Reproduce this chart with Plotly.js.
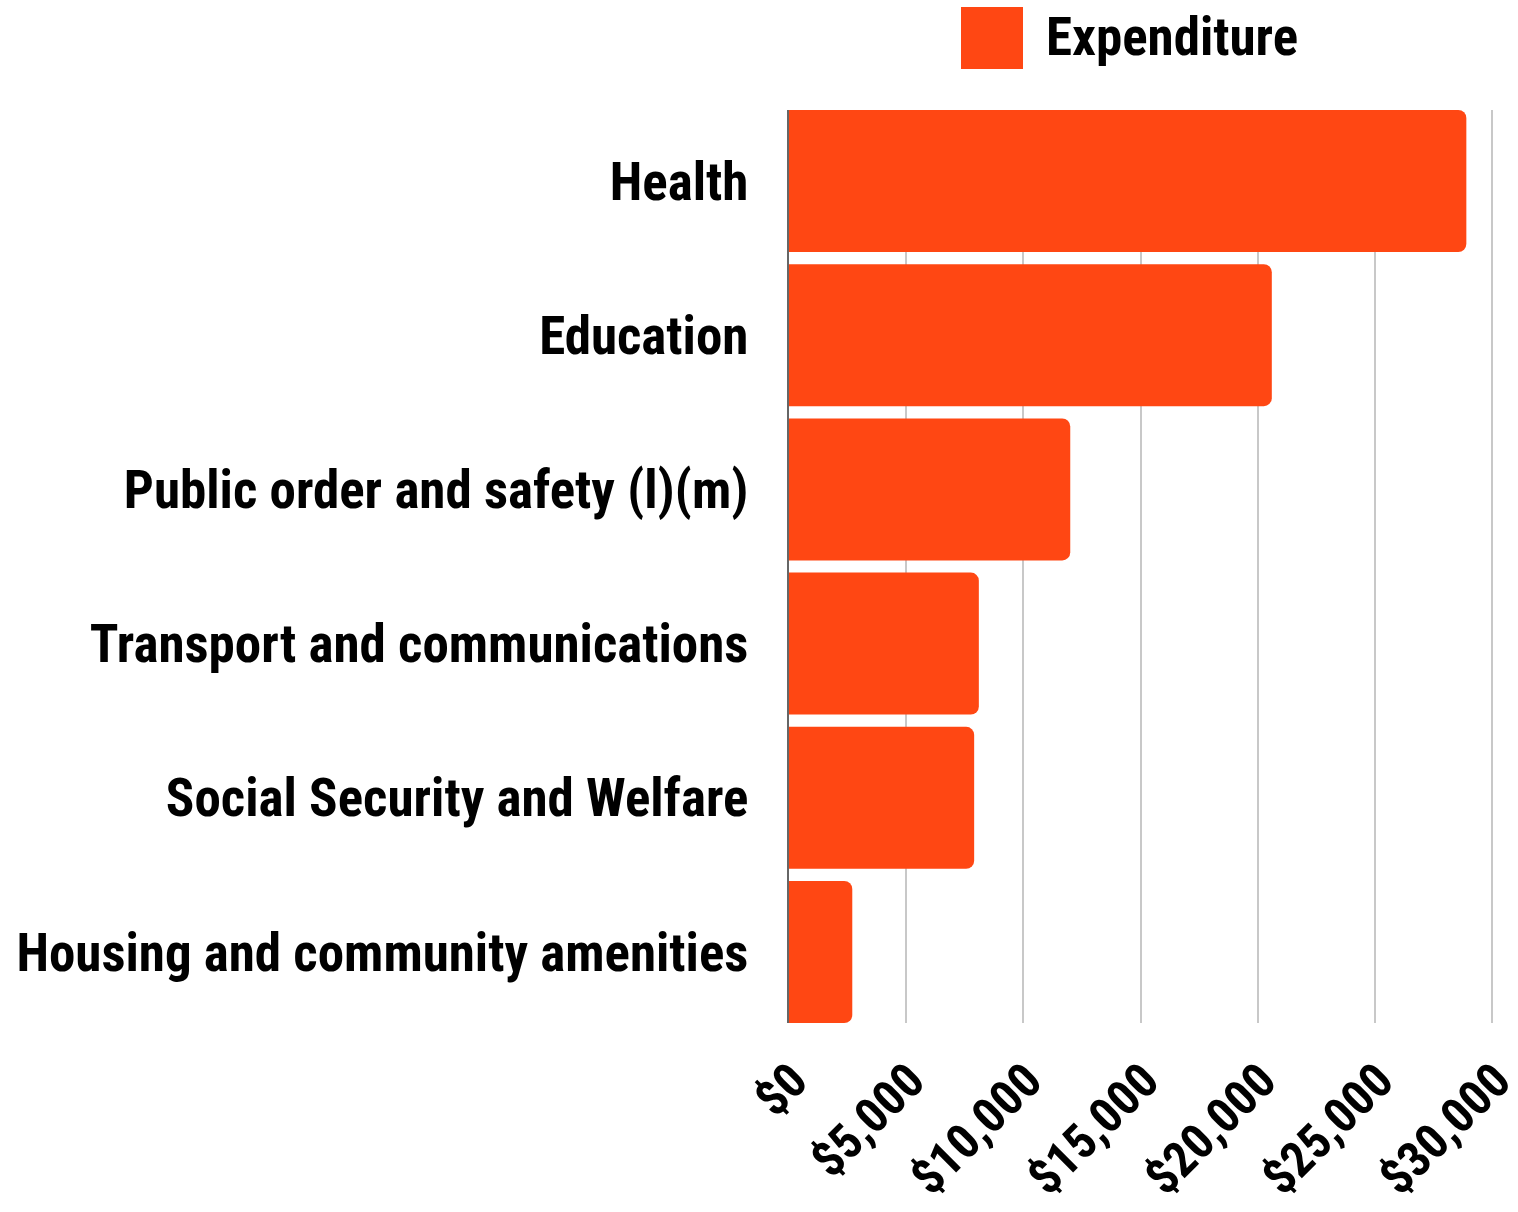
<!DOCTYPE html>
<html>
<head>
<meta charset="utf-8">
<script src="https://cdn.plot.ly/plotly-3.0.1.min.js"></script>
<style>html,body{margin:0;padding:0;background:#fff}#chart{width:1518px;height:1212px}</style>
</head>
<body>
<div id="chart"></div>
<script>
const categories = [
  "Health",
  "Education",
  "Public order and safety (l)(m)",
  "Transport and communications",
  "Social Security and Welfare",
  "Housing and community amenities"
];
const expenditure = [28900, 20600, 12000, 8100, 7900, 2700];
const seriesName = "Expenditure";
const tickValues = [0, 5000, 10000, 15000, 20000, 25000, 30000];
const tickLabels = ["$0", "$5,000", "$10,000", "$15,000", "$20,000", "$25,000", "$30,000"];

const FONT = '"Roboto Condensed", "Liberation Sans Narrow", "DejaVu Sans Condensed", "Arial Narrow", sans-serif';
const BAR = '#ff4713';
const BARGAP = 0.079;
const HALF = (1 - BARGAP) / 2;

const trace = {
  type: 'bar',
  orientation: 'h',
  y: categories,
  x: expenditure,
  name: seriesName,
  marker: {color: BAR, cornerradius: 8},
  hoverinfo: 'x+y',
  showlegend: false
};

const layout = {
  width: 1518, height: 1212,
  margin: {l: 789, r: 24, t: 110, b: 189},
  paper_bgcolor: '#fff', plot_bgcolor: '#fff',
  bargap: BARGAP,
  font: {family: FONT, color: '#000', size: 53, weight: 'bold'},
  xaxis: {
    range: [0, 30080],
    tickvals: tickValues, ticktext: tickLabels,
    tickangle: -45,
    showgrid: true, gridcolor: '#c8c8c8', gridwidth: 2,
    zeroline: false, showline: false,
    ticks: '', ticklabelstandoff: 18, ticklabelshift: 4,
    ticklabeloverflow: 'allow',
    tickfont: {family: FONT, size: 49, color: '#000', weight: 'bold'},
    fixedrange: true
  },
  yaxis: {
    range: [categories.length - 1 + HALF, -HALF],
    showgrid: false, zeroline: false,
    showline: true, linecolor: '#666', linewidth: 2,
    ticks: '', ticklabelstandoff: 28,
    tickfont: {family: FONT, size: 53, color: '#000', weight: 'bold'},
    fixedrange: true
  },
  shapes: [{
    type: 'rect', xref: 'paper', yref: 'paper',
    x0: (961-789)/705, x1: (1023-789)/705,
    y0: (1023-69)/913, y1: (1023-7)/913,
    fillcolor: BAR, line: {width: 0}
  }],
  annotations: [{
    xref: 'paper', yref: 'paper',
    x: (1044-789)/705, y: (1023-37)/913,
    xanchor: 'left', yanchor: 'middle',
    text: seriesName, showarrow: false,
    font: {family: FONT, size: 53, color: '#000', weight: 'bold'}
  }]
};

Plotly.newPlot('chart', [trace], layout, {displayModeBar: false, staticPlot: true});
</script>
</body>
</html>
